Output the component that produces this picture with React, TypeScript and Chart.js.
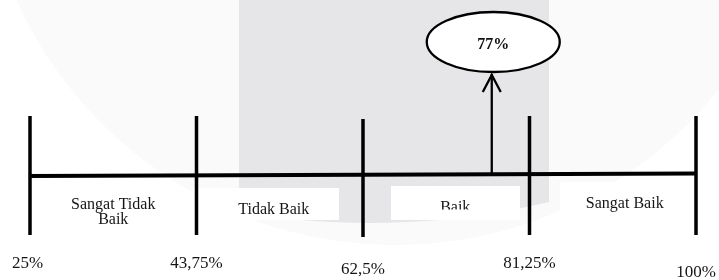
import React, { useEffect, useRef } from "react";
import { Chart, registerables } from "chart.js";

Chart.register(...registerables);

// ---- data ----
const boundaries = [25, 43.75, 62.5, 81.25, 100];
const boundaryLabels = ["25%", "43,75%", "62,5%", "81,25%", "100%"];
const categoryLines = [["Sangat Tidak", "Baik"], ["Tidak Baik"], ["Baik"], ["Sangat Baik"]];
const scoreValues = [77];
const scoreLabels = ["77%"];

// ---- layout / style (pixels) ----
const W = 719;
const H = 280;
const SERIF = '"Liberation Serif", "DejaVu Serif", serif';
const lineYLeft = 176;
const lineYRight = 173.5;
const tickTops = [116, 116, 119, 116, 116];
const tickBottoms = [235, 235, 237, 235, 235];
const boundaryLabelY = [263.5, 264, 270, 264, 273];
// per category: text dx from segment mid, baselines, box (dx left/right, top, bottom), clip bottom
const catLayout = [
  { dx: 0, baselines: [208.5, 224], box: null as null | number[], clip: 0 },
  { dx: -6, baselines: [214], box: [-86.75, 59.25, 188, 220], clip: 0 },
  { dx: 9, baselines: [211.5], box: [-55.25, 73.75, 186, 220], clip: 209.5 },
  { dx: 12, baselines: [207.8], box: [-52.75, 77, 182, 216], clip: 0 },
];

const diagramPlugin = {
  id: "continuum",
  beforeDatasetsDraw(chart: any) {
    const ctx: CanvasRenderingContext2D = chart.ctx;
    const xs = chart.scales.x;
    const px = (v: number) => xs.getPixelForValue(v);
    const x0 = px(boundaries[0]);
    const x1 = px(boundaries[boundaries.length - 1]);
    const lineY = (x: number) => lineYLeft + ((x - x0) * (lineYRight - lineYLeft)) / (x1 - x0);

    ctx.save();
    // watermark: light disc
    ctx.fillStyle = "#fafafa";
    ctx.beginPath();
    ctx.arc(395, -170, 415, 0, Math.PI * 2);
    ctx.fill();
    // watermark: darker vertical band clipped by a large disc
    ctx.save();
    ctx.beginPath();
    ctx.rect(239, 0, 310, H);
    ctx.clip();
    ctx.fillStyle = "#e6e6e8";
    ctx.beginPath();
    ctx.arc(370, -552, 775, 0, Math.PI * 2);
    ctx.fill();
    ctx.restore();

    // category label boxes and texts
    categoryLines.forEach((lines, i) => {
      const mid = (px(boundaries[i]) + px(boundaries[i + 1])) / 2;
      const lay = catLayout[i];
      if (lay.box) {
        ctx.fillStyle = "#ffffff";
        ctx.fillRect(mid + lay.box[0], lay.box[2], lay.box[1] - lay.box[0], lay.box[3] - lay.box[2]);
      }
      ctx.save();
      if (lay.clip && lay.box) {
        ctx.beginPath();
        ctx.rect(mid + lay.box[0], lay.box[2], lay.box[1] - lay.box[0], lay.clip - lay.box[2]);
        ctx.clip();
      }
      ctx.fillStyle = "#151515";
      ctx.font = `16px ${SERIF}`;
      ctx.textAlign = "center";
      ctx.textBaseline = "alphabetic";
      lines.forEach((t, j) => ctx.fillText(t, mid + lay.dx, lay.baselines[j]));
      ctx.restore();
    });

    // main horizontal line
    ctx.strokeStyle = "#000";
    ctx.lineCap = "butt";
    ctx.lineWidth = 4;
    ctx.beginPath();
    ctx.moveTo(x0, lineY(x0));
    ctx.lineTo(x1, lineY(x1));
    ctx.stroke();

    // boundary ticks
    ctx.lineWidth = 3.5;
    boundaries.forEach((b, i) => {
      const x = px(b);
      ctx.beginPath();
      ctx.moveTo(x, tickTops[i]);
      ctx.lineTo(x, tickBottoms[i]);
      ctx.stroke();
    });

    // score arrow and ellipse
    scoreValues.forEach((v, i) => {
      const ax = px(v);
      const ecx = ax + 1.5;
      const ecy = 42;
      const rx = 66.5;
      const ry = 30;
      ctx.lineWidth = 2.3;
      ctx.strokeStyle = "#000";
      ctx.beginPath();
      ctx.moveTo(ax, lineY(ax));
      ctx.lineTo(ax, ecy + ry + 2);
      ctx.stroke();
      ctx.beginPath();
      ctx.moveTo(ax - 9, 92);
      ctx.lineTo(ax, 75);
      ctx.lineTo(ax + 9, 92);
      ctx.stroke();

      ctx.fillStyle = "#ffffff";
      ctx.beginPath();
      ctx.ellipse(ecx, ecy, rx, ry, 0, 0, Math.PI * 2);
      ctx.fill();
      ctx.lineWidth = 2.3;
      ctx.stroke();

      ctx.fillStyle = "#111";
      ctx.font = `bold 16px ${SERIF}`;
      ctx.textAlign = "center";
      ctx.textBaseline = "middle";
      ctx.fillText(scoreLabels[i], ecx, 45);
    });

    // boundary percent labels
    ctx.fillStyle = "#151515";
    ctx.font = `17px ${SERIF}`;
    ctx.textAlign = "center";
    ctx.textBaseline = "middle";
    boundaries.forEach((b, i) => {
      const x = px(b);
      ctx.fillText(boundaryLabels[i], i === 0 ? x - 2.5 : x, boundaryLabelY[i]);
    });
    ctx.restore();
  },
};

export default function App() {
  const ref = useRef<HTMLCanvasElement | null>(null);
  useEffect(() => {
    document.body.style.margin = "0";
    const canvas = ref.current;
    if (!canvas) return;
    const chart = new Chart(canvas, {
      type: "scatter",
      data: {
        datasets: [
          {
            data: boundaries.map((b) => ({ x: b, y: 0 })),
            pointRadius: 0,
            showLine: false,
          },
        ],
      },
      options: {
        animation: false,
        responsive: false,
        devicePixelRatio: 1,
        layout: { padding: { left: 30, right: 23, top: 0, bottom: 0 } },
        plugins: { legend: { display: false }, tooltip: { enabled: false } },
        scales: {
          x: { type: "linear", min: 25, max: 100, display: false },
          y: { min: -1, max: 1, display: false },
        },
      },
      plugins: [diagramPlugin],
    });
    return () => chart.destroy();
  }, []);
  return (
    <div style={{ width: W, height: H, background: "#fff" }}>
      <canvas ref={ref} width={W} height={H} style={{ display: "block" }} />
    </div>
  );
}
